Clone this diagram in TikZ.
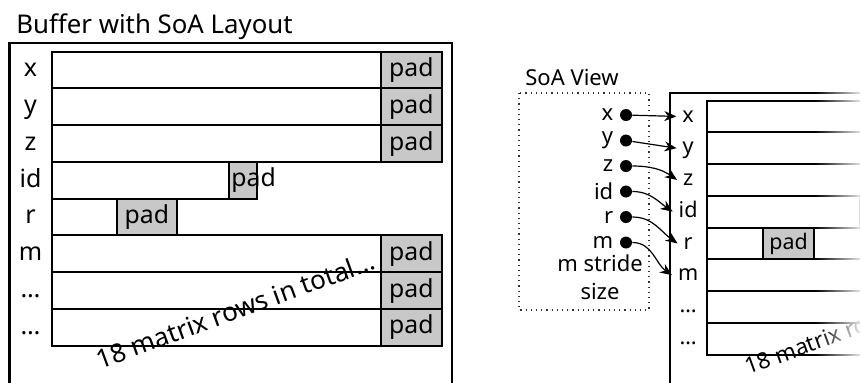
\documentclass[tikz,border=0pt]{standalone}
\usepackage{fontspec}
\setmainfont{Noto Sans}
\usetikzlibrary{arrows.meta, positioning, fadings, calc}

\definecolor{padGray}{HTML}{C8C8C8}
\tikzfading[name=fade in east, left color=transparent!100, right color=transparent!0]

\tikzset{
  bufframe/.style={draw, line width=1.3pt},
  rowbox/.style={draw, line width=1pt, fill=white},
  padbox/.style={draw, line width=1pt, fill=padGray},
  padtext/.style={font=\fontsize{12.4}{15}\selectfont, inner sep=1pt},
  rowlabel/.style={font=\fontsize{12.5}{15}\selectfont, text height=1.5ex, text depth=.25ex},
  note/.style={font=\fontsize{13}{15}\selectfont, inner sep=0pt},
  heading/.style={font=\fontsize{12.9}{15}\selectfont, inner sep=0pt},
  viewheading/.style={font=\fontsize{11}{13}\selectfont, inner sep=0pt},
  viewlabel/.style={font=\fontsize{11}{14}\selectfont, inner sep=1pt},
  ptrdot/.style={circle, fill=black, inner sep=0pt, minimum size=6pt},
  ptr/.style={-{Stealth[length=6pt, width=5pt]}, line width=.6pt},
  viewbox/.style={draw, dotted, line width=.6pt, black!80},
  % one buffer: frame, eight rows, pads and the row names
  pics/soabuffer/.style={code={
    % frame runs off the bottom of the page
    \draw[bufframe] (0,0) rectangle (442.5,420);
    % full rows: data then pad
    \foreach \n/\k in {x/0, y/1, z/2, m/5, d1/6, d2/7}{
      \draw[rowbox] (42.5,8.7+36.75*\k) rectangle (432.2,45.45+36.75*\k);
      \draw[padbox] (371.5,8.7+36.75*\k) rectangle (432.2,45.45+36.75*\k);
      \node[padtext] (-pad\n) at (401.85,27.1+36.75*\k) {pad};
    }
    % id row: short data, narrow pad, text runs past it
    \draw[rowbox] (42.5,118.95) rectangle (219.5,155.7);
    \draw[padbox] (219.5,118.95) rectangle (247.5,155.7);
    \node[padtext, anchor=west] (-padid) at (219.5,137.3) {pad};
    % r row
    \draw[rowbox] (42.5,155.7) rectangle (107.5,192.45);
    \draw[padbox] (107.5,155.7) rectangle (167.2,192.45);
    \node[padtext] (-padr) at (137.35,174.1) {pad};
    % row names
    \foreach \n/\k/\t in {x/0/x, y/1/y, z/2/z, id/3/id, r/4/r, m/5/m, d1/6/…, d2/7/…}
      \node[rowlabel] (-\n) at (21,27.1+36.75*\k) {\t};
    \node[note, rotate=20, anchor=base] (-total) at (229,276) {18 matrix rows in total…};
  }}
}

\begin{document}
\begin{tikzpicture}[x=0.5pt, y=-0.5pt]
  \useasboundingbox (0,0) rectangle (860,382);
  \clip (0,0) rectangle (860,382);

  % left: the buffer itself
  \node[heading, anchor=base west] (buftitle) at (16,33) {Buffer with SoA Layout};
  \pic (buf) at (9.5,43) {soabuffer};

  % right: the view and its pointers into a smaller copy
  \node[viewheading, anchor=base west] (viewtitle) at (525,85) {SoA View};
  \draw[viewbox] (519,93) rectangle (649,310);
  \pic[scale=0.864, transform shape] (view) at (670,93) {soabuffer};
  \fill[white, path fading=fade in east] (815,85) rectangle (866,382);

  \foreach \n/\t [count=\i from 0] in {x/x, y/y, z/z, id/id, r/r, m/m}{
    \node[ptrdot] (dot\n) at (626,115+25.5*\i) {};
    \node[viewlabel, left=2pt of dot\n] (name\n) {\t};
  }
  \node[viewlabel, align=center] (stride) at (600,277) {m stride\\size};

  \draw[ptr] (dotx) -- (view-x.west);
  \draw[ptr] (doty) -- (view-y.west);
  \foreach \n in {z, id, r, m}
    \draw[ptr] (dot\n) to[out=0, in=145] (view-\n.west);
\end{tikzpicture}
\end{document}
